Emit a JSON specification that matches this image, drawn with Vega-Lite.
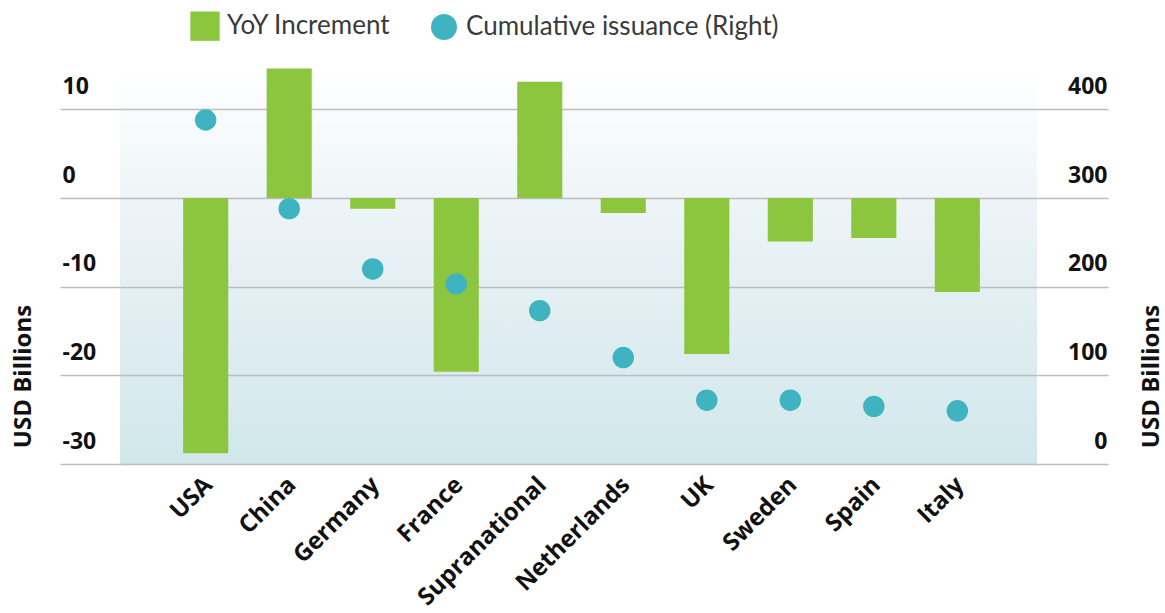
{
  "$schema": "https://vega.github.io/schema/vega-lite/v6.json",
  "autosize": "none",
  "width": 917,
  "height": 399,
  "padding": {"left": 120, "top": 65, "right": 128, "bottom": 149},
  "background": "white",
  "config": {
    "view": {"stroke": null, "fill": {"gradient": "linear", "x1": 0, "y1": 0, "x2": 0, "y2": 1, "stops": [{"offset": 0, "color": "#ffffff"}, {"offset": 0.5, "color": "#e6f0f4"}, {"offset": 1, "color": "#d1e8eb"}]}},
    "axis": {"labelFont": "Open Sans", "labelFontWeight": 700, "labelColor": "#111111", "titleFont": "Open Sans", "titleFontWeight": 700, "titleColor": "#111111", "gridColor": "#bdbdbd", "gridWidth": 1.5, "tickColor": "#bdbdbd", "tickWidth": 1.5, "domain": false}
  },
  "data": {
    "values": [
      {"country": "USA", "yoy": -28.8, "cum": 388},
      {"country": "China", "yoy": 14.6, "cum": 288},
      {"country": "Germany", "yoy": -1.2, "cum": 220},
      {"country": "France", "yoy": -19.6, "cum": 203},
      {"country": "Supranational", "yoy": 13.1, "cum": 173},
      {"country": "Netherlands", "yoy": -1.7, "cum": 120},
      {"country": "UK", "yoy": -17.6, "cum": 72},
      {"country": "Sweden", "yoy": -4.9, "cum": 72},
      {"country": "Spain", "yoy": -4.5, "cum": 65},
      {"country": "Italy", "yoy": -10.6, "cum": 60}
    ]
  },
  "encoding": {
    "x": {
      "field": "country", "type": "nominal", "sort": null,
      "scale": {"paddingInner": 0.46, "paddingOuter": 0.72, "align": 0.525},
      "axis": {"title": null, "labelAngle": -45, "labelAlign": "right", "labelBaseline": "middle", "labelFontSize": 24, "labelPadding": 17, "labelOffset": 3, "ticks": false, "grid": false}
    }
  },
  "layer": [
    {
      "mark": {"type": "bar"},
      "encoding": {
        "y": {
          "field": "yoy", "type": "quantitative",
          "scale": {"domain": [-30, 15], "nice": false},
          "axis": {"orient": "left", "values": [-30, -20, -10, 0, 10], "labelExpr": "'' + datum.value", "title": "USD Billions", "titleFontSize": 24, "titleX": -97, "titleY": 311, "titleAngle": -90, "titleBaseline": "middle", "titleAlign": "center", "labelFontSize": 23, "labelAlign": "left", "labelBaseline": "alphabetic", "labelOffset": -16, "labelPadding": -2, "tickSize": 60, "grid": true}
        },
        "color": {"datum": "YoY Increment", "type": "nominal",
          "scale": {"domain": ["YoY Increment", "Cumulative issuance (Right)"], "range": ["#8cc63f", "#40b3c0"]},
          "legend": {"orient": "none", "legendX": 72, "legendY": -52, "direction": "horizontal", "title": null, "labelFont": "Lato", "labelFontSize": 26, "labelLimit": 0, "labelColor": "#3a3a3a", "columnPadding": 40, "labelOffset": 9, "symbolStrokeWidth": 0, "symbolOpacity": 1,
            "encode": {"symbols": {"update": {"shape": {"signal": "datum.value === 'YoY Increment' ? 'square' : 'circle'"}, "size": {"signal": "datum.value === 'YoY Increment' ? 860 : 676"}}}}}
        }
      }
    },
    {
      "mark": {"type": "circle", "size": 460, "opacity": 1},
      "encoding": {
        "y": {
          "field": "cum", "type": "quantitative",
          "scale": {"domain": [0, 450], "nice": false},
          "axis": {"orient": "right", "values": [0, 100, 200, 300, 400], "title": "USD Billions", "titleFontSize": 24, "titleX": 114, "titleY": 311, "titleAngle": -90, "titleBaseline": "middle", "titleAlign": "center", "labelFontSize": 23, "labelAlign": "right", "labelBaseline": "alphabetic", "labelOffset": -16, "labelPadding": -1, "tickSize": 71, "grid": false}
        },
        "color": {"datum": "Cumulative issuance (Right)", "type": "nominal"}
      }
    }
  ],
  "resolve": {"scale": {"y": "independent"}}
}
